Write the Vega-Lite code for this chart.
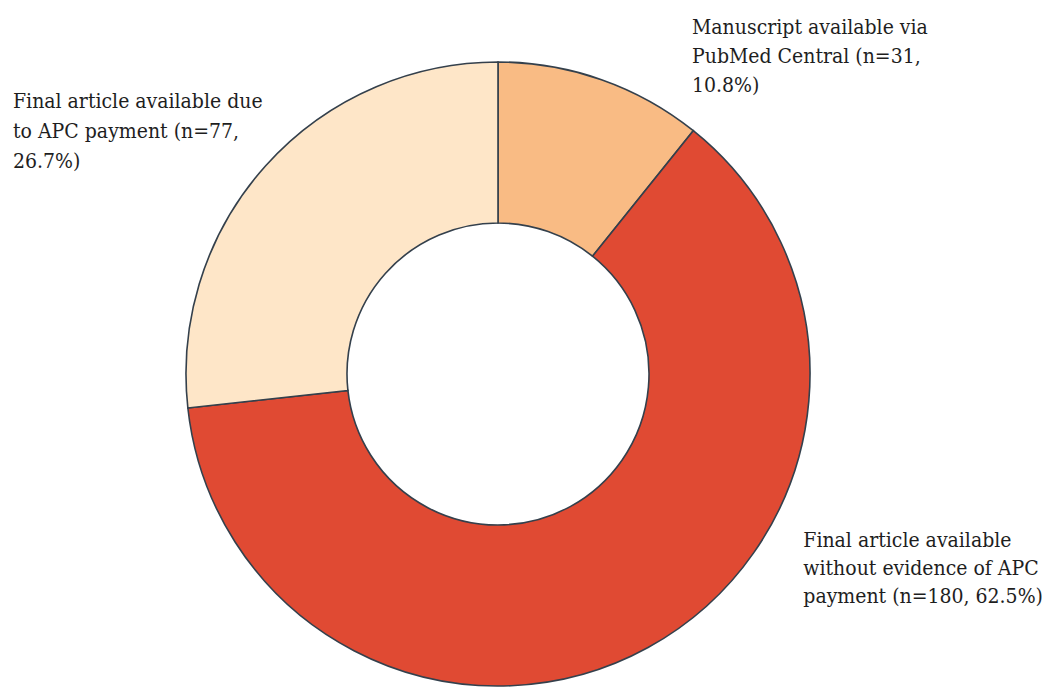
{
  "$schema": "https://vega.github.io/schema/vega-lite/v6.json",
  "width": 996,
  "height": 630,
  "autosize": {"type": "none"},
  "padding": {"left": 0, "top": 59, "right": 52, "bottom": 0},
  "background": "white",
  "view": {"stroke": null},
  "data": {
    "values": [
      {"category": "Manuscript available via PubMed Central", "n": 31, "label": "Manuscript available via\nPubMed Central (n=31,\n10.8%)"},
      {"category": "Final article available without evidence of APC payment", "n": 180, "label": "Final article available\nwithout evidence of APC\npayment (n=180, 62.5%)"},
      {"category": "Final article available due to APC payment", "n": 77, "label": "Final article available due\nto APC payment (n=77,\n26.7%)"}
    ]
  },
  "transform": [
    {"stack": "n", "groupby": [], "sort": [{"field": "category", "order": "descending"}], "as": ["n0", "n1"]}
  ],
  "layer": [
    {
      "mark": {"type": "arc", "outerRadius": 312, "innerRadius": 151, "stroke": "#34404c", "strokeWidth": 1.6},
      "encoding": {
        "theta": {"field": "n0", "type": "quantitative", "scale": {"nice": false, "zero": true}},
        "theta2": {"field": "n1"},
        "color": {
          "field": "category",
          "type": "nominal",
          "scale": {
            "domain": ["Manuscript available via PubMed Central", "Final article available without evidence of APC payment", "Final article available due to APC payment"],
            "range": ["#F9BB84", "#E04A33", "#FEE6C8"]
          },
          "legend": null
        }
      }
    },
    {
      "transform": [{"filter": {"field": "category", "equal": "Manuscript available via PubMed Central"}}],
      "mark": {"type": "text", "radius": 340, "align": "left", "baseline": "alphabetic", "dx": 194, "dy": 0, "font": "DejaVu Serif Condensed", "fontSize": 21, "lineBreak": "\n", "lineHeight": 29, "color": "#1e1e1e"},
      "encoding": {
        "theta": {"field": "n0", "type": "quantitative"},
        "text": {"field": "label", "type": "nominal"}
      }
    },
    {
      "transform": [{"filter": {"field": "category", "equal": "Final article available due to APC payment"}}],
      "mark": {"type": "text", "radius": 266, "align": "left", "baseline": "alphabetic", "dx": -485, "dy": 0, "font": "DejaVu Serif Condensed", "fontSize": 21, "lineBreak": "\n", "lineHeight": 30, "color": "#1e1e1e"},
      "encoding": {
        "theta": {"field": "n1", "type": "quantitative"},
        "text": {"field": "label", "type": "nominal"}
      }
    },
    {
      "transform": [{"filter": {"field": "category", "equal": "Final article available without evidence of APC payment"}}],
      "mark": {"type": "text", "radius": 312, "align": "left", "baseline": "alphabetic", "dx": 110, "dy": 416, "font": "DejaVu Serif Condensed", "fontSize": 21, "lineBreak": "\n", "lineHeight": 28, "color": "#1e1e1e"},
      "encoding": {
        "theta": {"field": "n0", "type": "quantitative"},
        "text": {"field": "label", "type": "nominal"}
      }
    }
  ]
}
